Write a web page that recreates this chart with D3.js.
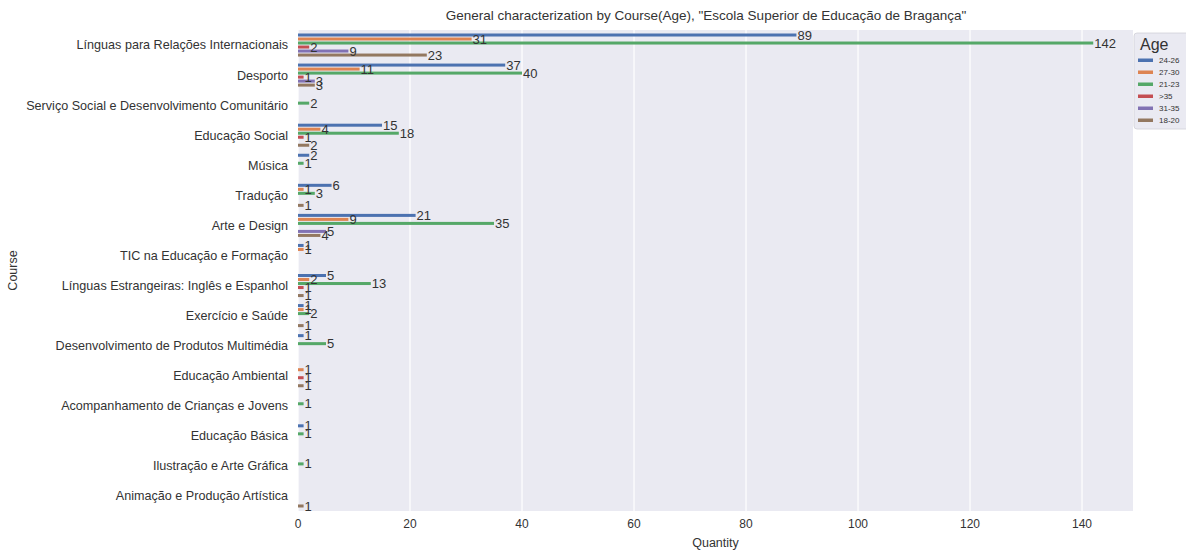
<!DOCTYPE html>
<html><head><meta charset="utf-8">
<script src="https://cdn.jsdelivr.net/npm/d3@7"></script>
<style>body{margin:0;background:#fff;}svg{display:block;font-family:"Liberation Sans",Arial,sans-serif;}</style>
</head><body><svg id="c" width="1186" height="552"></svg>
<script>
const courses = ["Línguas para Relações Internacionais","Desporto","Serviço Social e Desenvolvimento Comunitário","Educação Social","Música","Tradução","Arte e Design","TIC na Educação e Formação","Línguas Estrangeiras: Inglês e Espanhol","Exercício e Saúde","Desenvolvimento de Produtos Multimédia","Educação Ambiental","Acompanhamento de Crianças e Jovens","Educação Básica","Ilustração e Arte Gráfica","Animação e Produção Artística"];
const ages = ["24-26","27-30","21-23",">35","31-35","18-20"];
const colors = ["#4c72b0","#dd8452","#55a868","#c44e52","#8172b3","#937860"];
// values per age group, in course order (null = no bar)
const v24_26 = [89,37,null,15,2,6,21,1,5,1,1,null,null,1,null,null];
const v27_30 = [31,11,null,4,null,1,9,1,2,1,null,1,null,null,null,null];
const v21_23 = [142,40,2,18,1,3,35,null,13,2,5,null,1,1,1,null];
const vGt35  = [2,1,null,1,null,null,null,null,1,null,null,1,null,null,null,null];
const v31_35 = [9,3,null,null,null,null,5,null,null,null,null,null,null,null,null,null];
const v18_20 = [23,3,null,2,null,1,4,null,1,1,null,1,null,null,null,1];
const xTicks = [0,20,40,60,80,100,120,140];

const series = [v24_26,v27_30,v21_23,vGt35,v31_35,v18_20];
const svg = d3.select("#c");
const L=298, R=1133, T=30, B=511;
const x = d3.scaleLinear().domain([0,142*1.05]).range([L,R]);
const y = d3.scaleBand().domain(courses).range([T,B]);
const inner = d3.scaleBand().domain(ages).range([0,y.bandwidth()*0.8]);

svg.append("rect").attr("x",L).attr("y",T).attr("width",R-L).attr("height",B-T).attr("fill","#eaeaf2");
svg.append("g").selectAll("line").data(xTicks).join("line")
  .attr("x1",d=>x(d)).attr("x2",d=>x(d)).attr("y1",T).attr("y2",B)
  .attr("stroke","#fff").attr("stroke-width",1.2);

const rows=[];
series.forEach((s,i)=>s.forEach((val,j)=>{ if(val!=null) rows.push({c:courses[j],a:ages[i],v:val,col:colors[i]}); }));
const off = y.bandwidth()*0.1;
const g = svg.append("g");
g.selectAll("rect").data(rows).join("rect")
  .attr("x",x(0)).attr("width",d=>x(d.v)-x(0))
  .attr("y",d=>y(d.c)+off+inner(d.a)+0.5).attr("height",inner.bandwidth()-1)
  .attr("fill",d=>d.col);
g.selectAll("text").data(rows).join("text")
  .attr("x",d=>x(d.v)+1).attr("y",d=>y(d.c)+off+inner(d.a)+inner.bandwidth()/2)
  .attr("dy","0.35em").attr("font-size",13).attr("fill","#333").text(d=>d.v);

// axes labels
svg.append("g").selectAll("text").data(courses).join("text")
  .attr("x",L-10).attr("y",d=>y(d)+y.bandwidth()/2).attr("dy","0.35em")
  .attr("text-anchor","end").attr("font-size",12.6).attr("fill","#333").text(d=>d);
svg.append("g").selectAll("text").data(xTicks).join("text")
  .attr("x",d=>x(d)).attr("y",B+17).attr("text-anchor","middle")
  .attr("font-size",12).attr("fill","#333").text(d=>d);
svg.append("text").attr("x",(L+R)/2).attr("y",547).attr("text-anchor","middle")
  .attr("font-size",12.5).attr("fill","#333").text("Quantity");
svg.append("text").attr("transform","translate(17,"+((T+B)/2)+") rotate(-90)").attr("text-anchor","middle")
  .attr("font-size",12.5).attr("fill","#333").text("Course");
svg.append("text").attr("x",706).attr("y",20).attr("text-anchor","middle")
  .attr("font-size",13.5).attr("fill","#333").text('General characterization by Course(Age), "Escola Superior de Educação de Bragança"');

// legend
const lg = svg.append("g").attr("transform","translate(1134,33)");
lg.append("rect").attr("x",0).attr("y",0).attr("width",60).attr("height",96).attr("rx",3)
  .attr("fill","#eaeaf2").attr("stroke","#d0d0d8").attr("stroke-width",0.8);
lg.append("text").attr("x",6).attr("y",17).attr("font-size",16).attr("fill","#333").text("Age");
ages.forEach((a,i)=>{
  lg.append("rect").attr("x",4).attr("y",27+i*12-1.5).attr("width",15).attr("height",3.5).attr("fill",colors[i]);
  lg.append("text").attr("x",25).attr("y",27+i*12).attr("dy","0.35em").attr("font-size",8).attr("fill","#333").text(a);
});
</script></body></html>
